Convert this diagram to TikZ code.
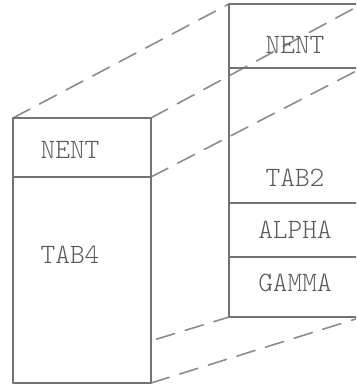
\documentclass[tikz,border=0pt]{standalone}
\usepackage{fontspec}
\setmonofont{lmmonolt10-regular.otf}
\begin{document}
\begin{tikzpicture}[x=1pt,y=-1pt, line cap=round,line join=round,
    box/.style={draw=black!55, line width=1.6pt},
    ghost/.style={draw=black!45, line width=1.6pt, dash pattern=on 19pt off 11pt},
    lbl/.style={text=black!65, font=\ttfamily\fontsize{28}{32}\selectfont}]
    \useasboundingbox (0,0) rectangle (356,385);
    \clip (0,0) rectangle (356,385);

    \coordinate (a1) at (13,118);  \coordinate (a2) at (151,118);
    \coordinate (a3) at (151,177); \coordinate (a4) at (13,177);
    \coordinate (a5) at (151,383); \coordinate (a6) at (13,383);

    \coordinate (b1) at (229,4);   \coordinate (b2) at (362,4);
    \coordinate (b3) at (362,68);  \coordinate (b4) at (229,68);
    \coordinate (b5) at (229,203); \coordinate (b6) at (362,203);
    \coordinate (b7) at (229,257); \coordinate (b8) at (362,257);
    \coordinate (b9) at (362,317); \coordinate (b10) at (229,317);

    \draw[ghost] (a1) -- (b1);
    \draw[ghost] (a2) -- (b2);
    \draw[ghost] (a3) -- (b3);
    \draw[ghost] (a6) -- (b10);
    \draw[ghost] (a5) -- (b9);

    \draw[box]   (b1) -- (b2) -- (b9) -- (b10) -- cycle;
    \draw[box]   (b4) -- (b3);
    \draw[box]   (b5) -- (b6);
    \draw[box]   (b7) -- (b8);

    \draw[box,fill=white] (a1) -- (a2) -- (a5) -- (a6) -- cycle;
    \draw[box]   (a4) -- (a3);

    \node[lbl] (nentA) at (70,150) {NENT};
    \node[lbl] (tabfour) at (70,255) {TAB4};
    \node[lbl] (nentB) at (295,45) {NENT};
    \node[lbl] (tabtwo) at (295,178) {TAB2};
    \node[lbl] (alpha) at (295,230) {ALPHA};
    \node[lbl] (gamma) at (295,283) {GAMMA};
\end{tikzpicture}
\end{document}
